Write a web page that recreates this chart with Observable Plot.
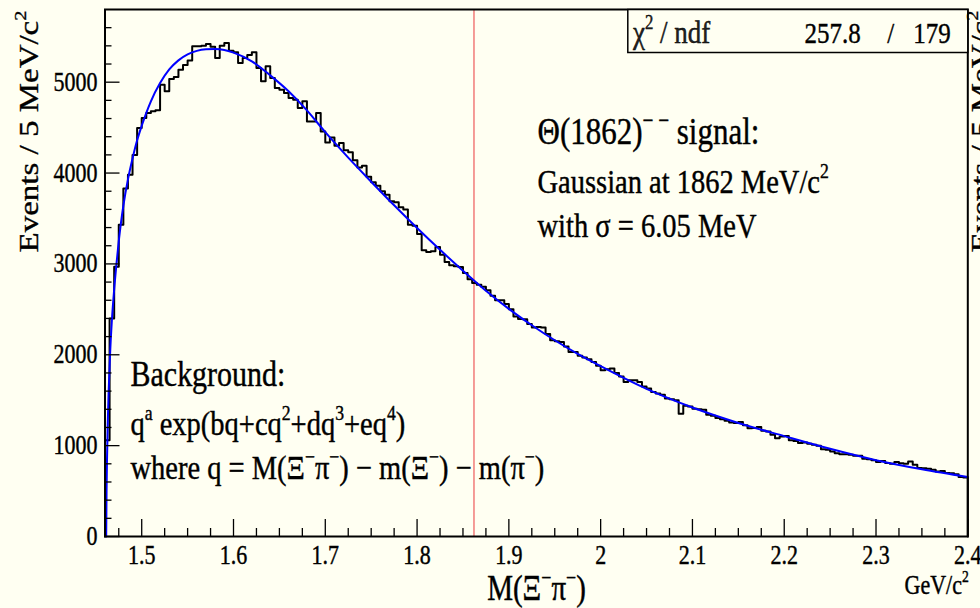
<!DOCTYPE html>
<html>
<head>
<meta charset="utf-8">
<script src="https://cdn.jsdelivr.net/npm/d3@7"></script>
<script src="https://cdn.jsdelivr.net/npm/@observablehq/plot@0.6"></script>
<style>
  html, body { margin: 0; padding: 0; background: #fffff2; }
  #chart svg { display: block; }
  #chart svg text { font-family: 'Liberation Serif', 'Times New Roman', serif; stroke: #000; stroke-width: 0.35px; }
  #chart svg text.sans { font-family: Roboto, 'Liberation Sans', sans-serif; stroke: none; }
</style>
</head>
<body>
<div id="chart"></div>
<script>
// Ξ⁻π⁻ invariant-mass spectrum, 5 MeV bins from 1.46 to 2.40 GeV/c²
const binStart = 1.46;
const binWidth = 0.005;
const counts = [
  1060, 2400, 2970, 3430, 3830, 3980, 4200, 4495, 4605, 4660,
  4680, 4690, 4972, 4900, 5035, 5057, 5138, 5190, 5240, 5395,
  5395, 5400, 5420, 5390, 5265, 5400, 5430, 5345, 5330, 5210,
  5267, 5300, 5330, 5156, 5009, 5175, 5046, 4936, 4917, 4880,
  4826, 4808, 4715, 4789, 4568, 4568, 4660, 4458, 4337, 4390,
  4300, 4330, 4250, 4230, 4140, 4060, 4080, 3960, 3900, 3860,
  3800, 3760, 3690, 3680, 3625, 3600, 3430, 3420, 3330, 3150,
  3130, 3140, 3185, 3100, 3020, 2985, 2975, 2965, 2900, 2830,
  2790, 2770, 2750, 2710, 2650, 2600, 2600, 2560, 2500, 2420,
  2395, 2390, 2340, 2300, 2305, 2300, 2230, 2160, 2150, 2140,
  2090, 2030, 2030, 1990, 1970, 1950, 1920, 1880, 1830, 1840,
  1850, 1800, 1760, 1700, 1720, 1720, 1700, 1650, 1630, 1590,
  1575, 1560, 1520, 1510, 1500, 1350, 1440, 1430, 1405, 1400,
  1395, 1340, 1330, 1305, 1290, 1275, 1255, 1250, 1260, 1225,
  1190, 1195, 1205, 1165, 1155, 1120, 1080, 1100, 1105, 1060,
  1050, 1030, 1035, 1020, 1010, 1000, 960, 955, 935, 915,
  905, 905, 900, 890, 890, 855, 850, 840, 820, 830,
  810, 800, 820, 805, 800, 825, 790, 755, 750, 745,
  735, 715, 720, 700, 695, 685, 655, 650
];

// Fitted background + signal curve, sampled along the mass axis
const fitMass = [
  1.4613, 1.4617, 1.4622, 1.463, 1.464, 1.4655, 1.4675, 1.47, 1.4725, 1.475,
  1.4775, 1.48, 1.485, 1.49, 1.495, 1.50, 1.51, 1.52, 1.53, 1.54,
  1.55, 1.56, 1.57, 1.58, 1.59, 1.60, 1.62, 1.64, 1.66, 1.68,
  1.70, 1.725, 1.75, 1.775, 1.80, 1.825, 1.85, 1.875, 1.90, 1.925,
  1.95, 1.975, 2.0, 2.05, 2.1, 2.15, 2.2, 2.25, 2.3, 2.35, 2.4
];
const fitCounts = [
  0, 500, 850, 1250, 1600, 2000, 2380, 2720, 3000, 3250,
  3460, 3640, 3930, 4160, 4360, 4520, 4790, 4990, 5140, 5240,
  5305, 5345, 5362, 5365, 5355, 5325, 5230, 5075, 4900, 4690,
  4450, 4170, 3905, 3645, 3395, 3155, 2925, 2705, 2505, 2325,
  2160, 2010, 1875, 1625, 1420, 1250, 1105, 965, 840, 740, 655
];

const signalMass = 1.862;

const xMajorTicks = [1.5, 1.6, 1.7, 1.8, 1.9, 2.0, 2.1, 2.2, 2.3, 2.4];
const yMajorTicks = [0, 1000, 2000, 3000, 4000, 5000];
const xMinorTicks = d3.range(1.475, 2.4, 0.025)
  .filter(t => Math.abs(t * 10 - Math.round(t * 10)) > 1e-6);
const yMinorTicks = d3.range(200, 5800, 200).filter(t => t % 1000 !== 0);

const statLabel = "χ^{2} / ndf";
const chi2 = "257.8";
const ndf = "179";

const signalTitle = "Θ(1862)^{− −} signal:";
const signalLines = ["Gaussian at 1862 MeV/c^{2}", "with σ = 6.05 MeV"];
const bkgTitle = "Background:";
const bkgLines = [
  "q^{a} exp(bq+cq^{2}+dq^{3}+eq^{4})",
  "where q = M(Ξ^{−}π^{−}) − m(Ξ^{−}) − m(π^{−})"
];
const xTitle = "M(Ξ^{−}π^{−})";
const xUnit = "GeV/c^{2}";
const yTitle = "Events / 5 MeV/c^{2}";

// Histogram outline: rises from the axis at the first edge, falls back at the last
const histPoints = [{x: binStart, y: 0}];
counts.forEach((c, i) => histPoints.push({x: binStart + i * binWidth, y: c}));
const histEnd = binStart + counts.length * binWidth;
histPoints.push({x: histEnd, y: counts[counts.length - 1]}, {x: histEnd, y: 0});

const fit = fitMass.map((m, i) => ({x: m, y: fitCounts[i]}));

const W = 980, H = 608;
const mL = 104.5, mR = 12.7, mT = 9, mB = 72;
const frameW = W - mL - mR, frameH = H - mT - mB;
const serif = "'Liberation Serif', 'Times New Roman', serif";
const fmtX = d => String(+d.toFixed(1));

const note = (text, dx, dy, size) => Plot.text([text], {
  frameAnchor: "top-left", dx, dy, textAnchor: "start", lineAnchor: "bottom",
  fontSize: size, fontFamily: serif, fill: "black"
});

const chart = Plot.plot({
  width: W,
  height: H,
  marginLeft: mL, marginRight: mR, marginTop: mT, marginBottom: mB,
  x: {domain: [binStart, histEnd], label: null},
  y: {domain: [0, 5800], label: null},
  style: {background: "#fffff2", fontFamily: serif, color: "black", overflow: "hidden"},
  marks: [
    Plot.ruleX([signalMass], {stroke: "#ee5a5a", strokeWidth: 1.2}),
    Plot.line(histPoints, {x: "x", y: "y", curve: "step-after", stroke: "black", strokeWidth: 2}),
    Plot.line(fit, {x: "x", y: "y", curve: "monotone-x", stroke: "#0000ff", strokeWidth: 2}),
    // axes with ticks pointing into the frame
    Plot.axisX(xMinorTicks, {anchor: "bottom", tickSize: -8, tickFormat: () => "", label: null, strokeWidth: 1.3}),
    Plot.axisX(xMajorTicks, {anchor: "bottom", tickSize: -17, tickPadding: 26, tickFormat: fmtX,
      fontSize: 22, fontFamily: serif, label: null, strokeWidth: 1.3}),
    Plot.axisY(yMinorTicks, {anchor: "left", tickSize: -7, tickFormat: () => "", label: null, strokeWidth: 1.3}),
    Plot.axisY(yMajorTicks, {anchor: "left", tickSize: -15, tickPadding: 22.5, tickFormat: d => String(d),
      fontSize: 22, fontFamily: serif, label: null, strokeWidth: 1.3}),
    Plot.frame({stroke: "black", strokeWidth: 2}),
    // fit-quality box in the upper right corner
    Plot.frame({insetLeft: frameW - 340, insetBottom: frameH - 43, fill: "#fffff2", stroke: "black", strokeWidth: 1.5}),
    Plot.text([statLabel], {frameAnchor: "top-left", dx: 528, dy: 33, textAnchor: "start", lineAnchor: "bottom",
      fontSize: 27, fontWeight: 300, fill: "#222", className: "sans"}),
    Plot.text([chi2], {frameAnchor: "top-right", dx: -107, dy: 33, textAnchor: "end", lineAnchor: "bottom", fontSize: 25, fontFamily: serif, fill: "black"}),
    Plot.text(["/"], {frameAnchor: "top-right", dx: -77, dy: 33, textAnchor: "middle", lineAnchor: "bottom", fontSize: 25, fontFamily: serif, fill: "black"}),
    Plot.text([ndf], {frameAnchor: "top-right", dx: -17, dy: 33, textAnchor: "end", lineAnchor: "bottom", fontSize: 25, fontFamily: serif, fill: "black"}),
    // signal and background descriptions
    note(signalTitle, 432.5, 134, 31),
    note(signalLines[0], 432.5, 183, 28.5),
    note(signalLines[1], 432.5, 227, 28.5),
    note(bkgTitle, 25.5, 376, 30),
    note(bkgLines[0], 25.5, 425, 28.5),
    note(bkgLines[1], 25.5, 469, 28.5),
    // axis titles
    Plot.text([xTitle], {frameAnchor: "bottom-left", dx: 431.5, dy: 63, textAnchor: "middle", lineAnchor: "bottom", fontSize: 29, fontFamily: serif, fill: "black"}),
    Plot.text([xUnit], {frameAnchor: "bottom-right", dx: 1, dy: 57, textAnchor: "end", lineAnchor: "bottom", fontSize: 22, fontFamily: serif, fill: "black"}),
    Plot.text([yTitle], {frameAnchor: "top-left", dx: 37 - mL, dy: 1, rotate: -90, textAnchor: "end", lineAnchor: "bottom", fontSize: 27.5, fontFamily: serif, fill: "black"}),
    // axis title of the neighbouring panel, cut by the page edge
    Plot.text([yTitle], {frameAnchor: "top-right", dx: 22, dy: 1, rotate: -90, textAnchor: "end", lineAnchor: "bottom", fontSize: 27.5, fontFamily: serif, fill: "black"})
  ]
});

document.getElementById("chart").appendChild(chart);

// Superscripts written as ^{...} become raised, smaller tspans
const SVGNS = "http://www.w3.org/2000/svg";
chart.querySelectorAll("text").forEach(t => {
  const s = t.textContent;
  if (!s.includes("^{")) return;
  const fs = parseFloat(getComputedStyle(t).fontSize);
  const parts = s.split(/(\^\{[^}]*\})/).filter(p => p !== "");
  while (t.firstChild) t.removeChild(t.firstChild);
  let raised = false;
  for (const p of parts) {
    const sp = document.createElementNS(SVGNS, "tspan");
    if (p.startsWith("^{")) {
      sp.textContent = p.slice(2, -1);
      sp.setAttribute("font-size", (fs * 0.62).toFixed(2));
      if (!raised) sp.setAttribute("dy", (-fs * 0.42).toFixed(2));
      raised = true;
    } else {
      sp.textContent = p;
      if (raised) sp.setAttribute("dy", (fs * 0.42).toFixed(2));
      raised = false;
    }
    t.appendChild(sp);
  }
});

// Tall, narrow lettering: stretch every label vertically about its anchor
const K = 1.2;
chart.querySelectorAll("text").forEach(t => {
  const tr = t.getAttribute("transform");
  if (tr && tr.startsWith("translate(")) {
    const i = tr.indexOf(")") + 1;
    t.setAttribute("transform", tr.slice(0, i) + ` scale(1,${K})` + tr.slice(i));
  } else {
    const x = +t.getAttribute("x") || 0, y = +t.getAttribute("y") || 0;
    t.setAttribute("transform", `translate(${x},${y}) scale(1,${K}) translate(${-x},${-y})`);
  }
});
</script>
</body>
</html>
